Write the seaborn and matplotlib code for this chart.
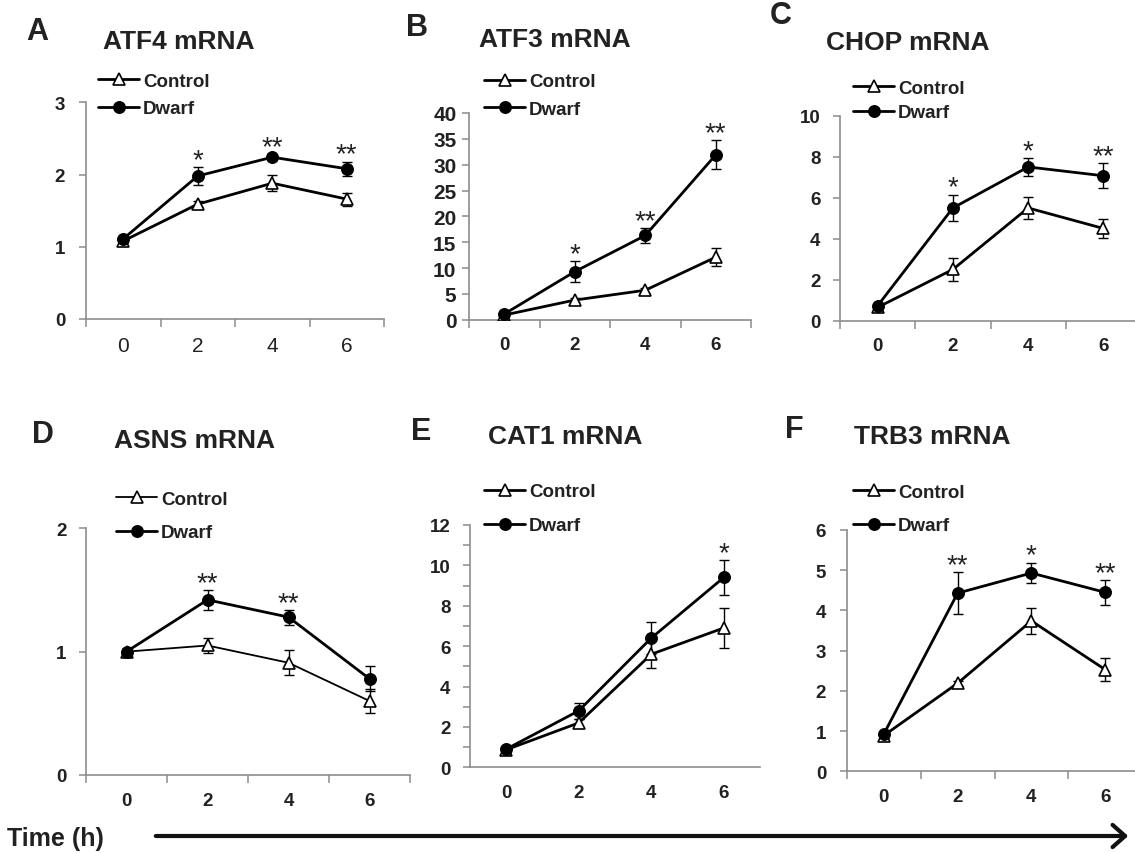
import numpy as np
import pandas as pd
import matplotlib
matplotlib.use('Agg')
import matplotlib.pyplot as plt
import seaborn as sns
from matplotlib.lines import Line2D
from matplotlib.patches import FancyArrowPatch
from matplotlib.ticker import FixedLocator, MultipleLocator

sns.set_style('ticks')
plt.rcParams['font.family'] = ['Liberation Sans', 'DejaVu Sans']

# ---- data ----
times = [0, 2, 4, 6]
time_labels = ['0', '2', '4', '6']
groups = ['Control', 'Dwarf']

atf4_control = [1.08, 1.59, 1.88, 1.66]
atf4_control_err = [0.03, 0.04, 0.11, 0.09]
atf4_dwarf = [1.11, 1.98, 2.24, 2.08]
atf4_dwarf_err = [0.03, 0.12, 0.04, 0.10]
atf4_sig = ['', '*', '**', '**']

atf3_control = [0.9, 3.8, 5.7, 12.1]
atf3_control_err = [0.3, 0.4, 0.5, 1.7]
atf3_dwarf = [1.1, 9.3, 16.3, 31.9]
atf3_dwarf_err = [0.4, 2.0, 1.5, 2.8]
atf3_sig = ['', '*', '**', '**']

chop_control = [0.65, 2.5, 5.5, 4.5]
chop_control_err = [0.1, 0.55, 0.55, 0.45]
chop_dwarf = [0.73, 5.5, 7.5, 7.07]
chop_dwarf_err = [0.1, 0.65, 0.45, 0.6]
chop_sig = ['', '*', '*', '**']

asns_control = [1.0, 1.05, 0.91, 0.6]
asns_control_err = [0.02, 0.06, 0.1, 0.1]
asns_dwarf = [1.0, 1.42, 1.28, 0.78]
asns_dwarf_err = [0.02, 0.08, 0.06, 0.1]
asns_sig = ['', '**', '**', '']

cat1_control = [0.87, 2.2, 5.6, 6.9]
cat1_control_err = [0.1, 0.2, 0.7, 1.0]
cat1_dwarf = [0.9, 2.8, 6.4, 9.4]
cat1_dwarf_err = [0.1, 0.4, 0.8, 0.85]
cat1_sig = ['', '', '', '*']

trb3_control = [0.89, 2.19, 3.74, 2.53]
trb3_control_err = [0.05, 0.06, 0.33, 0.28]
trb3_dwarf = [0.93, 4.43, 4.93, 4.45]
trb3_dwarf_err = [0.05, 0.52, 0.26, 0.31]
trb3_sig = ['', '**', '*', '**']

# ---- layout (pixels) ----
W, H = 1135, 854
fig = plt.figure(figsize=(W / 100, H / 100), dpi=100)
GRAY = '#8c8c8c'
INK = '#222222'

panels = [
    dict(letter='A', title='ATF4 mRNA', ctrl=atf4_control, ctrl_err=atf4_control_err,
         dw=atf4_dwarf, dw_err=atf4_dwarf_err, sig=atf4_sig,
         box=(86, 103.3, 384, 320), ymax=3, ystep=1, ypad=10, ysize=13.5, xbold=False,
         letter_xy=(26, 32), title_xy=(103, 42), leg_xy=(98, 96), leg_space=0.55),
    dict(letter='B', title='ATF3 mRNA', ctrl=atf3_control, ctrl_err=atf3_control_err,
         dw=atf3_dwarf, dw_err=atf3_dwarf_err, sig=atf3_sig,
         box=(469, 114, 751, 320.7), ymax=40, ystep=5, ypad=4, ysize=15, xbold=True,
         letter_xy=(406, 28), title_xy=(479, 40), leg_xy=(484, 96.5), leg_space=0.55),
    dict(letter='C', title='CHOP mRNA', ctrl=chop_control, ctrl_err=chop_control_err,
         dw=chop_dwarf, dw_err=chop_dwarf_err, sig=chop_sig,
         box=(840, 116.7, 1141, 321.7), ymax=10, ystep=2, ypad=9, ysize=13.5, xbold=True,
         letter_xy=(770, 16), title_xy=(826, 43), leg_xy=(853, 101.5), leg_space=0.4),
    dict(letter='D', title='ASNS mRNA', ctrl=asns_control, ctrl_err=asns_control_err,
         dw=asns_dwarf, dw_err=asns_dwarf_err, sig=asns_sig,
         box=(86, 529.3, 410, 776), ymax=2, ystep=1, ypad=9, ysize=13.5, xbold=True,
         letter_xy=(32, 435), title_xy=(114, 441), leg_xy=(116, 517), leg_space=0.85,
         ctrl_lw=1.3),
    dict(letter='E', title='CAT1 mRNA', ctrl=cat1_control, ctrl_err=cat1_control_err,
         dw=cat1_dwarf, dw_err=cat1_dwarf_err, sig=cat1_sig,
         box=(470, 526, 760, 768.3), ymax=12, ystep=2, ypad=9, ysize=13.5, xbold=True,
         letter_xy=(411, 432), title_xy=(488, 437), leg_xy=(484, 509.5), leg_space=0.9,
         yminor=1, xticks=False),
    dict(letter='F', title='TRB3 mRNA', ctrl=trb3_control, ctrl_err=trb3_control_err,
         dw=trb3_dwarf, dw_err=trb3_dwarf_err, sig=trb3_sig,
         box=(847, 531, 1142, 772.3), ymax=6, ystep=1, ypad=10, ysize=13.5, xbold=True,
         letter_xy=(785, 430), title_xy=(854, 437), leg_xy=(853, 510), leg_space=0.85),
]


def fx(px):
    return px / W


def fy(py):
    return 1 - py / H


for p in panels:
    left, top, right, bottom = p['box']
    ax = fig.add_axes([fx(left), fy(bottom), (right - left) / W, (bottom - top) / H])
    ax.set_facecolor('none')
    ctrl_lw = p.get('ctrl_lw', 2.0)

    df = pd.DataFrame({
        'Time': times * 2,
        'Value': p['ctrl'] + p['dw'],
        'Group': [groups[0]] * 4 + [groups[1]] * 4,
    })

    # error bars first so markers sit on top
    ax.errorbar(times, p['ctrl'], yerr=p['ctrl_err'], fmt='none', ecolor='black',
                elinewidth=1, capsize=3.5, capthick=1, zorder=1)
    ax.errorbar(times, p['dw'], yerr=p['dw_err'], fmt='none', ecolor='black',
                elinewidth=1, capsize=3.5, capthick=1, zorder=1)

    sns.lineplot(data=df[df.Group == 'Control'], x='Time', y='Value', ax=ax,
                 color='black', lw=ctrl_lw, marker='^', markersize=8.3,
                 markerfacecolor='white', markeredgecolor='black', markeredgewidth=1.2,
                 errorbar=None, legend=False, zorder=3)
    sns.lineplot(data=df[df.Group == 'Dwarf'], x='Time', y='Value', ax=ax,
                 color='black', lw=2.0, marker='o', markersize=8.5,
                 markerfacecolor='black', markeredgecolor='black', markeredgewidth=0.8,
                 errorbar=None, legend=False, zorder=4)

    # significance stars
    for t, v, e, s in zip(times, p['dw'], p['dw_err'], p['sig']):
        if s:
            ax.annotate(s, (t, v + e), xytext=(0, 0), textcoords='offset points',
                        ha='center', va='baseline', fontsize=20, color=INK)

    ax.set_xlim(-1, 7)
    ax.set_ylim(0, p['ymax'])
    ax.set_xlabel('')
    ax.set_ylabel('')
    ax.xaxis.set_major_locator(FixedLocator(times))
    if p['xbold']:
        ax.set_xticklabels(time_labels, fontsize=13.5, fontweight='bold', color=INK)
    else:
        ax.set_xticklabels(time_labels, fontsize=15, fontweight='normal', color=INK)
    ax.xaxis.set_minor_locator(FixedLocator([-1, 1, 3, 5, 7]))
    ax.yaxis.set_major_locator(MultipleLocator(p['ystep']))
    for lab in ax.get_yticklabels():
        lab.set_fontweight('bold')
        lab.set_fontsize(p['ysize'])
        lab.set_color(INK)
    ax.tick_params(axis='x', which='major', length=0, pad=12)
    ax.tick_params(axis='x', which='minor',
                   length=6 if p.get('xticks', True) else 0, width=1.1, color=GRAY)
    ax.tick_params(axis='y', which='major', length=5, width=1.1, color=GRAY, pad=p['ypad'])
    if 'yminor' in p:
        ax.yaxis.set_minor_locator(MultipleLocator(p['yminor']))
        ax.tick_params(axis='y', which='minor', length=5, width=1.1, color=GRAY)
    sns.despine(ax=ax)
    for sp in ('left', 'bottom'):
        ax.spines[sp].set_color(GRAY)
        ax.spines[sp].set_linewidth(1.2)

    handles = [
        Line2D([], [], color='black', lw=ctrl_lw, marker='^', markersize=8,
               markerfacecolor='white', markeredgecolor='black', markeredgewidth=1.2),
        Line2D([], [], color='black', lw=2.0, marker='o', markersize=8.3,
               markerfacecolor='black', markeredgecolor='black'),
    ]
    lx, ly = p['leg_xy']
    leg = ax.legend(handles, groups, loc='center left', bbox_to_anchor=(fx(lx), fy(ly)),
                    bbox_transform=fig.transFigure, frameon=False, borderpad=0,
                    borderaxespad=0, handlelength=2.2, handletextpad=0.2, numpoints=1,
                    labelspacing=p['leg_space'],
                    prop={'weight': 'bold', 'size': 13.5})
    for txt in leg.get_texts():
        txt.set_color(INK)

    fig.text(fx(p['letter_xy'][0]), fy(p['letter_xy'][1]), p['letter'], ha='left',
             va='center', fontsize=22, fontweight='bold', color=INK)
    fig.text(fx(p['title_xy'][0]), fy(p['title_xy'][1]), p['title'], ha='left',
             va='center', fontsize=19, fontweight='bold', color=INK)

# time arrow along the bottom
fig.text(fx(7), fy(839), 'Time (h)', ha='left', va='center', fontsize=18,
         fontweight='bold', color=INK)
fig.add_artist(FancyArrowPatch((fx(153), fy(837)), (fx(1131), fy(837)),
                               transform=fig.transFigure,
                               arrowstyle='->,head_length=0.45,head_width=0.4',
                               mutation_scale=20, lw=3, color='#111111'))

fig.savefig('out.png', dpi=100)
